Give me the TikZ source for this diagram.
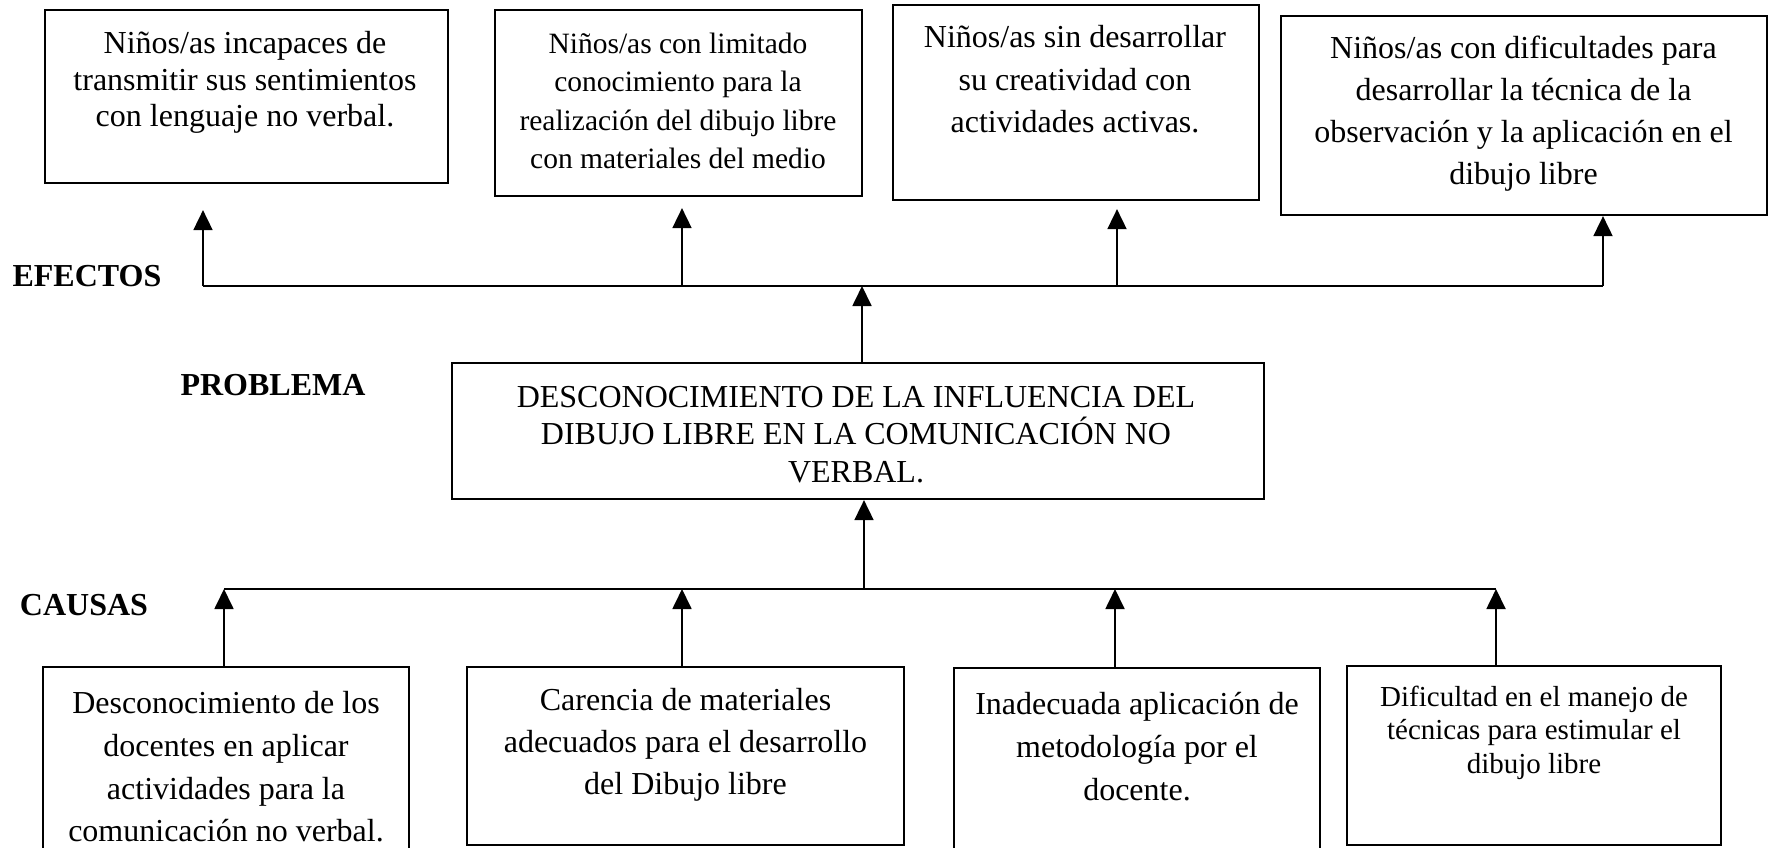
\documentclass[tikz,border=0pt]{standalone}
\usepackage{fontspec}
\setmainfont{Liberation Serif}
\usetikzlibrary{arrows.meta}
\begin{document}
\begin{tikzpicture}[x=1pt,y=-1pt,
  boxe/.style={draw=black, line width=2.2pt, rectangle, inner sep=0pt},
  txt/.style={align=center, inner sep=0pt},
  lab/.style={font=\fontsize{32}{36}\selectfont\bfseries, inner sep=0pt},
  conn/.style={line width=1.8pt},
  arr/.style={line width=1.8pt, -{Triangle[width=19pt,length=20pt]}}]
\useasboundingbox (0,0) rectangle (1771,847);
% effect boxes
\node[boxe, minimum width=403pt, minimum height=173pt] (E1) at (246.5,96.5) {};
\node[boxe, minimum width=367pt, minimum height=186pt] (E2) at (678.5,103) {};
\node[boxe, minimum width=366pt, minimum height=195pt] (E3) at (1076,102.5) {};
\node[boxe, minimum width=486pt, minimum height=199pt] (E4) at (1524,115.5) {};
\node[txt, font=\fontsize{32}{36.5}\selectfont] (e1t) at (245,82.5) {Niños/as incapaces de\\transmitir sus sentimientos\\con lenguaje no verbal.};
\node[txt, font=\fontsize{29.5}{38.5}\selectfont] (e2t) at (678,101) {Niños/as con limitado\\conocimiento para la\\realización del dibujo libre\\con materiales del medio};
\node[txt, font=\fontsize{32}{42.5}\selectfont] (e3t) at (1075,79.5) {Niños/as sin desarrollar\\su creatividad con\\actividades activas.};
\node[txt, font=\fontsize{32}{42}\selectfont] (e4t) at (1523.5,114) {Niños/as con dificultades para\\desarrollar la técnica de la\\observación y la aplicación en el\\dibujo libre};
% labels
\node[lab] (efx) at (87,276) {EFECTOS};
\node[lab] (prb) at (273,385) {PROBLEMA};
\node[lab] (cau) at (84,605) {CAUSAS};
% problem box
\node[boxe, minimum width=812pt, minimum height=136pt] (P) at (858,431) {};
\node[txt, font=\fontsize{32}{37.5}\selectfont] (pt) at (856,434.5) {DESCONOCIMIENTO DE LA INFLUENCIA DEL\\DIBUJO LIBRE EN LA COMUNICACIÓN NO\\VERBAL.};
% cause boxes
\node[boxe, minimum width=366pt, minimum height=190pt] (C1) at (226,762) {};
\node[boxe, minimum width=437pt, minimum height=178pt] (C2) at (685.5,756) {};
\node[boxe, minimum width=366pt, minimum height=186pt] (C3) at (1137,761) {};
\node[boxe, minimum width=374pt, minimum height=179pt] (C4) at (1534,755.5) {};
\node[txt, font=\fontsize{32}{42.7}\selectfont] (c1t) at (226,767) {Desconocimiento de los\\docentes en aplicar\\actividades para la\\comunicación no verbal.};
\node[txt, font=\fontsize{32}{42}\selectfont] (c2t) at (685.5,745) {Carencia de materiales\\adecuados para el desarrollo\\del Dibujo libre};
\node[txt, font=\fontsize{32}{43}\selectfont] (c3t) at (1137,746.5) {Inadecuada aplicación de\\metodología por el\\docente.};
\node[txt, font=\fontsize{29}{33.5}\selectfont] (c4t) at (1534,732.5) {Dificultad en el manejo de\\técnicas para estimular el\\dibujo libre};
% effects connectors
\coordinate (L1) at (203,286);
\coordinate (L2) at (682,286);
\coordinate (L3) at (1117,286);
\coordinate (L4) at (1603,286);
\coordinate (LP) at (862,286);
\draw[conn] (L1) -- (L4);
\draw[arr, shorten >=26pt] (L1) -- (L1 |- E1.south);
\draw[arr, shorten >=11pt] (L2) -- (L2 |- E2.south);
\draw[arr, shorten >=8pt] (L3) -- (L3 |- E3.south);
\draw[arr] (L4) -- (L4 |- E4.south);
\draw[arr] (LP |- P.north) -- (LP);
% causes connectors
\coordinate (K1) at (224,589);
\coordinate (K2) at (682,589);
\coordinate (K3) at (1115,589);
\coordinate (K4) at (1496,589);
\coordinate (KP) at (864,589);
\draw[conn] (K1) -- (K4);
\draw[arr] (K1 |- C1.north) -- (K1);
\draw[arr] (K2 |- C2.north) -- (K2);
\draw[arr] (K3 |- C3.north) -- (K3);
\draw[arr] (K4 |- C4.north) -- (K4);
\draw[arr] (KP) -- (KP |- P.south);
\end{tikzpicture}
\end{document}
